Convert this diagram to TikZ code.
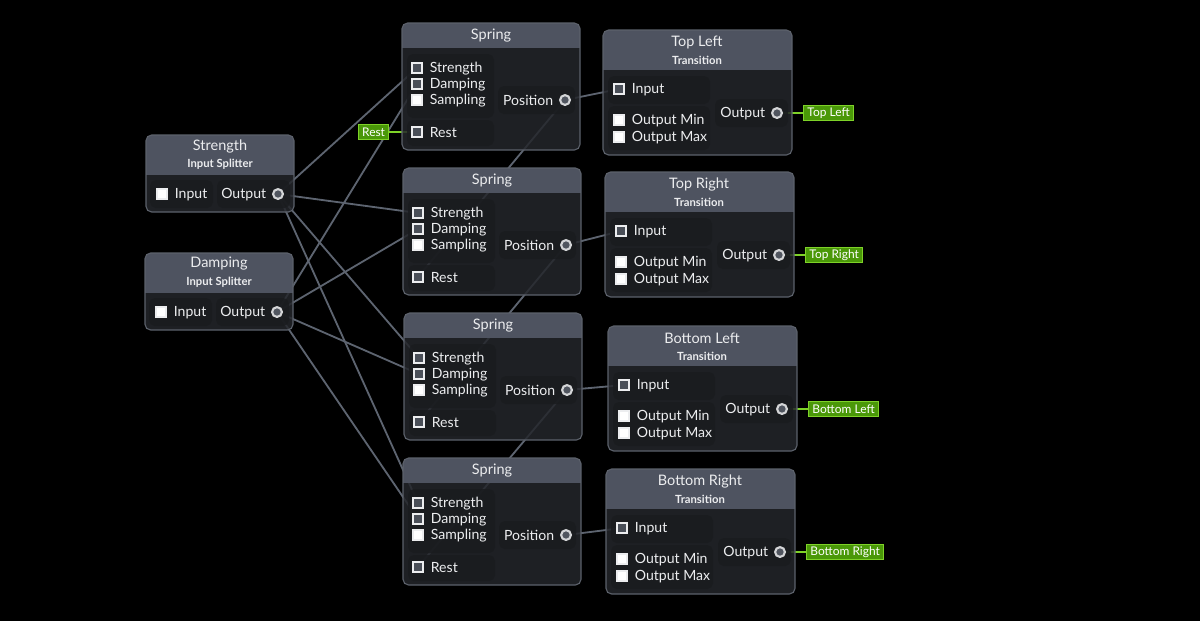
\documentclass[tikz,border=0pt]{standalone}
\usepackage{fontspec}
\setmainfont{Lato}
\usepackage{tikz}
\usetikzlibrary{positioning}
\definecolor{headfill}{RGB}{78,83,96}
\definecolor{bodyfill}{RGB}{36,38,43}
\definecolor{pillfill}{RGB}{26,28,31}
\definecolor{framegray}{RGB}{92,97,107}
\definecolor{wiregray}{RGB}{93,100,112}
\definecolor{boxgray}{RGB}{74,79,88}
\definecolor{dotgray}{RGB}{80,85,95}
\definecolor{tagfill}{RGB}{74,152,8}
\definecolor{tagborder}{RGB}{126,210,40}
\definecolor{textwhite}{RGB}{236,237,239}

\pgfdeclarelayer{backdrop}
\pgfdeclarelayer{wires}
\pgfsetlayers{backdrop,wires,main}

\tikzset{
    titletext/.style={text=textwhite, font=\fontsize{10.3}{12}\selectfont, inner sep=0pt},
    subtext/.style={text=textwhite, font=\fontsize{8}{10}\selectfont\bfseries, inner sep=0pt},
    porttext/.style={text=textwhite, font=\fontsize{10}{12}\selectfont, inner sep=0pt, yshift=-0.6pt},
    linkbox/.style={rectangle, draw=textwhite, fill=boxgray, line width=1.1pt, minimum size=6.8pt, inner sep=0pt},
    freebox/.style={rectangle, draw=textwhite, fill=white, line width=1.1pt, minimum size=6.8pt, inner sep=0pt},
    outdot/.style={circle, draw=textwhite!90!black, fill=dotgray, line width=1.5pt, minimum size=7pt, inner sep=0pt},
    pill/.style={fill=pillfill, fill opacity=0.85, rounded corners=4pt},
    frame/.style={draw=framegray, line width=0.8pt, rounded corners=4pt},
    wire/.style={draw=wiregray, line width=1.3pt},
    tagwire/.style={draw=tagborder, line width=1.3pt},
    greentag/.style={rectangle, fill=tagfill, draw=tagborder, line width=0.7pt, text=white, font=\fontsize{8.5}{10}\selectfont, inner xsep=2.8pt, inner ysep=0pt, minimum height=10.5pt}
}

% node frame: width, height, header height
\newcommand{\nodeframe}[3]{%
  \fill[bodyfill, fill opacity=0.85, rounded corners=4pt] (0,0) rectangle (#1,#2);
  \begin{scope}
    \clip[rounded corners=4pt] (0,0) rectangle (#1,#2);
    \fill[headfill] (0,0) rectangle (#1,#3);
  \end{scope}
  \draw[frame] (0,0) rectangle (#1,#2);
}

% splitter: name, x, y, title
\newcommand{\splitter}[4]{%
\begin{scope}[shift={(#2,#3)}]
  \nodeframe{148}{77}{40}
  \node[titletext] at (74,11) {#4};
  \node[subtext] at (74,29) {Input Splitter};
  \fill[pill] (4,45) rectangle (67,73);
  \fill[pill] (71,45) rectangle (144,73);
  \node[freebox] (#1-in) at (16,59) {};
  \node[porttext, right=5pt of #1-in] {Input};
  \node[outdot] (#1-out) at (132,59) {};
  \node[porttext, left=4pt of #1-out] {Output};
\end{scope}}

% spring: name, x, y
\newcommand{\springbox}[3]{%
\begin{scope}[shift={(#2,#3)}]
  \nodeframe{178}{127}{25}
  \node[titletext] at (89,13) {Spring};
  \fill[pill] (5,31) rectangle (92,95);
  \fill[pill] (5,97) rectangle (92,123);
  \fill[pill] (96,63) rectangle (173,91);
  \node[linkbox] (#1-str) at (15,45) {};
  \node[linkbox] (#1-dmp) at (15,61) {};
  \node[freebox] (#1-smp) at (15,77) {};
  \node[linkbox] (#1-rst) at (15,109) {};
  \node[porttext, right=5pt of #1-str] {Strength};
  \node[porttext, right=5pt of #1-dmp] {Damping};
  \node[porttext, right=5pt of #1-smp] {Sampling};
  \node[porttext, right=5pt of #1-rst] {Rest};
  \node[outdot] (#1-pos) at (163,77) {};
  \node[porttext, left=4pt of #1-pos] {Position};
\end{scope}}

% transition: name, x, y, title
\newcommand{\transition}[4]{%
\begin{scope}[shift={(#2,#3)}]
  \nodeframe{189}{125}{40}
  \node[titletext] at (94,12) {#4};
  \node[subtext] at (94,30) {Transition};
  \fill[pill] (5,46) rectangle (107,74);
  \fill[pill] (5,76) rectangle (107,120);
  \fill[pill] (112,69) rectangle (185,97);
  \node[linkbox] (#1-in) at (16,59) {};
  \node[freebox] (#1-min) at (16,90) {};
  \node[freebox] (#1-max) at (16,107) {};
  \node[porttext, right=5pt of #1-in] {Input};
  \node[porttext, right=5pt of #1-min] {Output Min};
  \node[porttext, right=5pt of #1-max] {Output Max};
  \node[outdot] (#1-out) at (174,83) {};
  \node[porttext, left=4pt of #1-out] {Output};
\end{scope}}

\begin{document}
\begin{tikzpicture}[x=0.025cm, y=-0.025cm]

\begin{pgfonlayer}{backdrop}
  \fill[black] (0,0) rectangle (1200,621);
\end{pgfonlayer}
\useasboundingbox (0,0) rectangle (1200,621);

% Splitters
\splitter{str}{146}{135}{Strength}
\splitter{dmp}{145}{253}{Damping}

% Springs
\springbox{s1}{402}{23}
\springbox{s2}{403}{168}
\springbox{s3}{404}{313}
\springbox{s4}{403}{458}

% Transitions
\transition{t1}{603}{30}{Top Left}
\transition{t2}{605}{172}{Top Right}
\transition{t3}{608}{326}{Bottom Left}
\transition{t4}{606}{469}{Bottom Right}

% Tags
\node[greentag, left=0.55cm of s1-rst] (resttag) {Rest};
\node[greentag, right=0.5cm of t1-out] (tltag) {Top Left};
\node[greentag, right=0.5cm of t2-out] (trtag) {Top Right};
\node[greentag, right=0.5cm of t3-out] (bltag) {Bottom Left};
\node[greentag, right=0.5cm of t4-out] (brtag) {Bottom Right};

% Wires
\begin{pgfonlayer}{wires}
  \foreach \s in {s1,s2,s3,s4} {
    \draw[wire] (str-out) -- (\s-str);
    \draw[wire] (dmp-out) -- (\s-dmp);
  }
  \foreach \a/\b in {s1/s2,s2/s3,s3/s4}
    \draw[wire] (\a-pos) -- (\b-rst);
  \foreach \s/\t in {s1/t1,s2/t2,s3/t3,s4/t4}
    \draw[wire] (\s-pos) -- (\t-in);
  \draw[tagwire] (resttag) -- (s1-rst);
  \draw[tagwire] (t1-out) -- (tltag);
  \draw[tagwire] (t2-out) -- (trtag);
  \draw[tagwire] (t3-out) -- (bltag);
  \draw[tagwire] (t4-out) -- (brtag);
\end{pgfonlayer}

\end{tikzpicture}
\end{document}
